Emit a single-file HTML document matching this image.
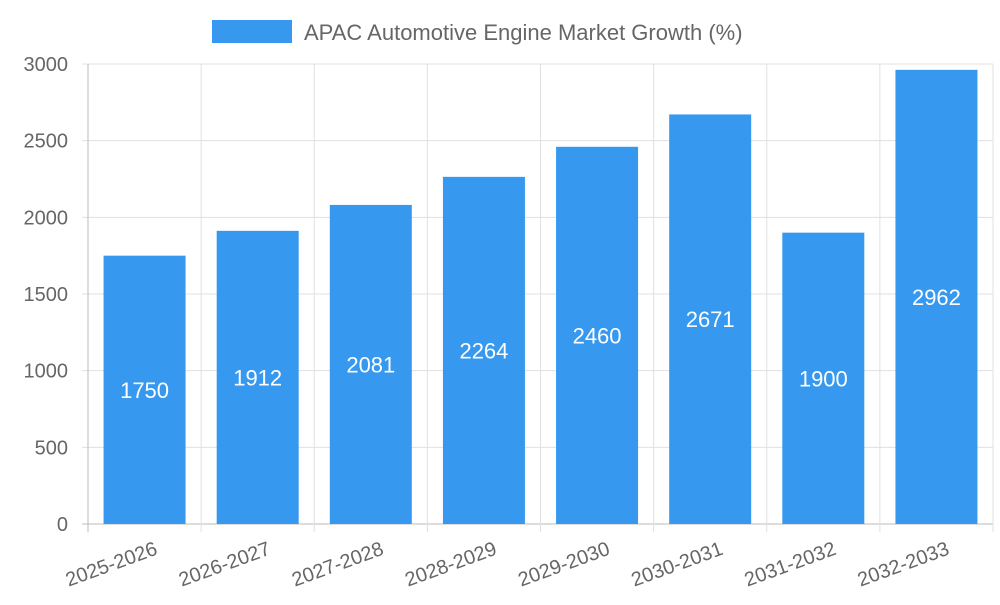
<!DOCTYPE html>
<html><head><meta charset="utf-8"><style>
body{margin:0;background:#fff;font-family:"Liberation Sans",sans-serif}
</style></head><body>
<svg id="chart" width="1000" height="600" xmlns="http://www.w3.org/2000/svg" font-family="Liberation Sans, sans-serif">
<g>
<rect x="212" y="20" width="80" height="23" fill="#3699ef"/>
<text x="304" y="40" font-size="22" fill="#666">APAC Automotive Engine Market Growth (%)</text>
</g>
<g id="grid"></g><g id="bars"></g><g id="labels"></g>
</svg>
<script>
const categories=["2025-2026","2026-2027","2027-2028","2028-2029","2029-2030","2030-2031","2031-2032","2032-2033"];
const values=[1750,1912,2081,2264,2460,2671,1900,2962];
const yTicks=[0,500,1000,1500,2000,2500,3000];
const L=88,R=993,T=64,B=524,yMax=3000;
const ns="http://www.w3.org/2000/svg";
const bw=(R-L)/categories.length;
const y=v=>B-(v/yMax)*(B-T);
const x=i=>L+i*bw;
function mk(p,tag,a,txt){const e=document.createElementNS(ns,tag);for(const k in a)e.setAttribute(k,a[k]);if(txt!==undefined)e.textContent=txt;p.appendChild(e);return e;}
const g=document.getElementById('grid'),b=document.getElementById('bars'),lb=document.getElementById('labels');
yTicks.forEach(t=>{
 const ln=mk(g,'line',{x1:L-6,x2:R,y1:y(t),y2:y(t),stroke:t===0?'#bbb':'#e0e0e0','stroke-width':1});
 
 
 const tx=mk(g,'text',{x:L-20,y:y(t)+7,'text-anchor':'end','font-size':20,fill:'#666'},t);
 
 
});
for(let i=0;i<=categories.length;i++){
 const ln=mk(g,'line',{x1:x(i),x2:x(i),y1:T,y2:B+8,stroke:i===0?'#bbb':'#e0e0e0','stroke-width':1});
 
 
}
categories.forEach((c,i)=>{
 const w=82,cx=x(i)+bw/2;
 const r=mk(b,'rect',{x:cx-w/2,y:y(values[i]),width:w,height:B-y(values[i]),fill:'#3699ef'});
 
 
 const v=mk(lb,'text',{x:cx,y:(y(values[i])+B)/2+8,'text-anchor':'middle','font-size':22,fill:'#fff'},values[i]);
 
 
 const tx=mk(lb,'text',{x:x(i)+bw/2+14,y:B+30,'text-anchor':'end','font-size':20,fill:'#666',transform:`rotate(-20 ${x(i)+bw/2+14} ${B+30})`},c);
 
 
});
</script>
</body></html>
